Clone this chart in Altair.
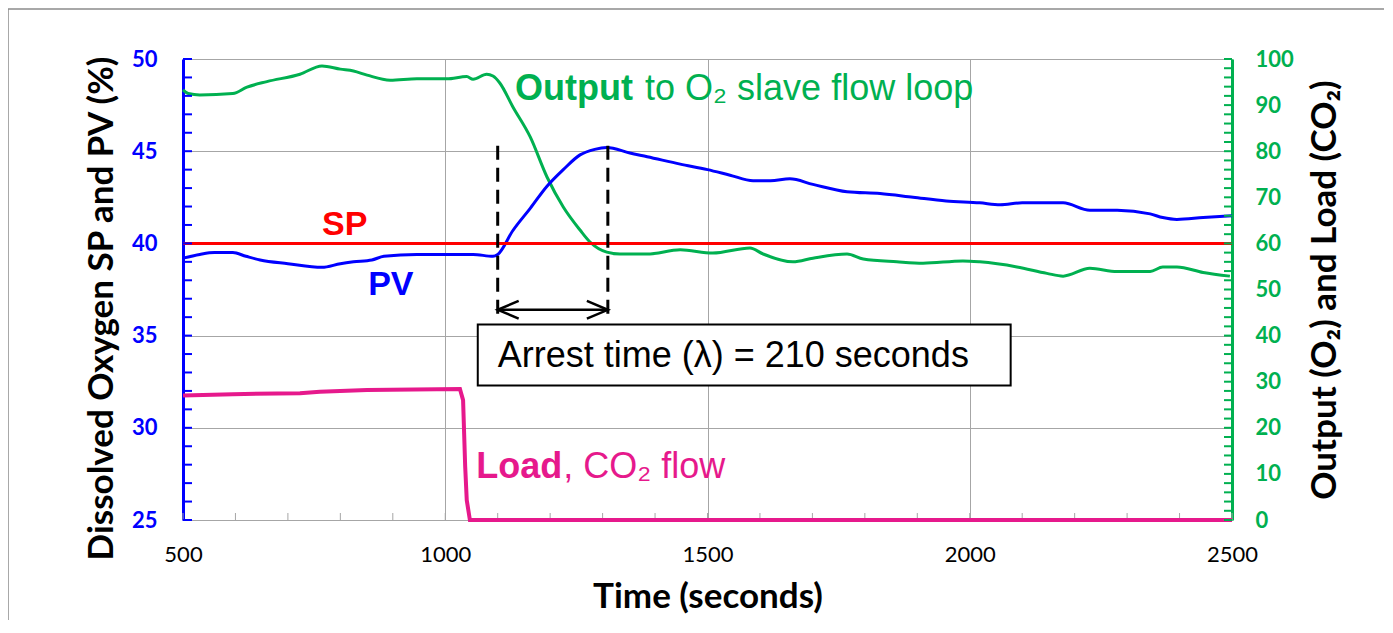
import altair as alt
import pandas as pd

# ---------------- data ----------------
pv_t = [500, 532, 560, 595, 620, 647, 700, 765, 800, 825, 860, 883, 946, 1003, 1053, 1091, 1100,
        1129, 1162, 1194, 1225, 1257, 1285, 1308, 1352, 1385, 1448, 1500, 1543, 1587, 1620, 1657,
        1701, 1766, 1829, 1892, 1955, 2019, 2058, 2100, 2153, 2178, 2229, 2281, 2344, 2368, 2395,
        2445, 2500]
pv_v = [39.2, 39.4, 39.5, 39.5, 39.3, 39.1, 38.9, 38.7, 38.9, 39.0, 39.1, 39.3, 39.4, 39.4, 39.4, 39.3, 39.4,
        40.7, 41.9, 43.1, 44.0, 44.8, 45.1, 45.2, 44.9, 44.7, 44.3, 44.0, 43.7, 43.4, 43.4, 43.5,
        43.2, 42.8, 42.7, 42.5, 42.3, 42.2, 42.1, 42.2, 42.2, 42.2, 41.8, 41.8, 41.6, 41.4, 41.3,
        41.4, 41.5]

out_t = [500, 510, 532, 595, 622, 660, 723, 765, 800, 825, 851, 895, 946, 1003, 1041, 1053, 1079,
         1091, 1104, 1129, 1162, 1194, 1225, 1257, 1276, 1308, 1333, 1385, 1448, 1510, 1581, 1606,
         1663, 1701, 1766, 1797, 1861, 1911, 1987, 2019, 2090, 2147, 2178, 2229, 2281, 2344, 2368,
         2395, 2445, 2496]
out_v = [93.3, 92.5, 92.2, 92.5, 93.9, 95.1, 96.7, 98.5, 97.8, 97.4, 96.5, 95.4, 95.7, 95.7, 96.2, 95.6, 96.7,
         96.3, 94.8, 89.6, 83.1, 74.4, 67.9, 62.9, 60.3, 58.1, 57.7, 57.7, 58.6, 57.9, 59.0, 57.7,
         56.0, 56.8, 57.7, 56.6, 56.0, 55.7, 56.2, 56.0, 54.9, 53.5, 52.9, 54.6, 53.9, 53.9, 54.9,
         54.9, 53.7, 52.9]

load_t = [500, 595, 723, 761, 851, 1028, 1034, 1038, 1041, 1047, 2500]
load_v = [27.0, 27.3, 27.5, 27.8, 28.2, 28.4, 26.0, 11.6, 4.3, 0.0, 0.0]

sp_t = [500, 2500]
sp_v = [40, 40]

# arrest-time markers
dash_t = [1100, 1310]
dash_top = 45.3
dash_bottom = 35.8
arrow_v = 36.4
box_t = [1062, 2078]
box_v = [32.3, 35.6]

# tick values
x_labels = [500, 1000, 1500, 2000, 2500]
x_minor = list(range(500, 2501, 100))
yl_labels = [25, 30, 35, 40, 45, 50]
yl_minor = list(range(25, 51, 1))
yr_labels = list(range(0, 101, 10))
yr_minor = list(range(0, 101, 2))

# annotation texts (left x in seconds, baseline on left axis)
ann = [
    ("SP", 765, 40.46),
    ("PV", 853, 37.2),
    ("Output", 1133, 47.78),
    ("to O\u2082 slave flow loop", 1381, 47.78),
    ("Load", 1059, 27.28),
    (", CO\u2082 flow", 1225, 27.28),
    ("Arrest time (\u03bb) = 210 seconds", 1100, 33.31),
]

# ---------------- style ----------------
W, H = 1049, 461
BLUE = "#0000FF"
GREEN = "#00B050"
RED = "#FF0000"
MAG = "#E6198C"
GRID = "#A6A6A6"
TICKFONT = "Lato"
TXTFONT = "Liberation Sans"

x_scale = alt.Scale(domain=[500, 2500], nice=False, zero=False)
yl_scale = alt.Scale(domain=[25, 50], nice=False, zero=False)
yr_scale = alt.Scale(domain=[0, 100], nice=False, zero=False)

x_axis = alt.Axis(values=x_labels, format="d", title="Time (seconds)", grid=True, gridColor=GRID, gridWidth=1,
                  domainColor=GRID, domainWidth=1, ticks=False, tickSize=0,
                  labelFont=TICKFONT, labelFontSize=22, labelColor="black", labelPadding=24,
                  labelFlush=False, labelOverlap=False,
                  titleFont=TICKFONT, titleFontSize=35, titleFontWeight="bold", titleColor="black",
                  titlePadding=14)
yl_axis = alt.Axis(orient="left", values=yl_labels, format="d", title="Dissolved Oxygen SP and PV (%)",
                   grid=True, gridColor=GRID, gridWidth=1,
                   domainColor=BLUE, domainWidth=3, ticks=False, tickSize=0,
                   labelFont=TICKFONT, labelFontSize=22, labelFontWeight="bold", labelColor=BLUE,
                   labelPadding=26, labelFlush=False, labelOverlap=False,
                   titleFont=TICKFONT, titleFontSize=35, titleFontWeight="bold", titleColor="black",
                   titlePadding=12, titleY=249)
yr_axis = alt.Axis(orient="right", values=yr_labels, format="d", title="Output (O\u2082) and Load (CO\u2082)",
                   grid=False, domainColor=GREEN, domainWidth=3, ticks=False, tickSize=0,
                   labelFont=TICKFONT, labelFontSize=22, labelFontWeight="bold", labelColor=GREEN,
                   labelPadding=23, labelFlush=False, labelOverlap=False,
                   titleFont=TICKFONT, titleFontSize=35, titleFontWeight="bold", titleColor="black",
                   titlePadding=14, titleAngle=270, titleBaseline="top")


def X(f="t"):
    return alt.X(f"{f}:Q", scale=x_scale, axis=x_axis)


def YL(f="v", axis=None):
    return alt.Y(f"{f}:Q", scale=yl_scale, axis=axis)


def YR(f="v", axis=None):
    return alt.Y(f"{f}:Q", scale=yr_scale, axis=axis)


one = pd.DataFrame({"k": [0]})

frame = alt.Chart(one).mark_rect(fill=None, stroke="#8C8C8C", strokeWidth=1.5).encode(
    x=alt.value(-175), x2=alt.value(1202), y=alt.value(-50), y2=alt.value(700))

xticks = alt.Chart(pd.DataFrame({"t": x_minor})).mark_rule(color=GRID, strokeWidth=1).encode(
    x=X(), y=alt.value(H - 7), y2=alt.value(H))

out_line = alt.Chart(pd.DataFrame({"t": out_t, "v": out_v})).mark_line(
    color=GREEN, strokeWidth=3, interpolate="monotone").encode(x=X(), y=YR(axis=yr_axis))

pv_line = alt.Chart(pd.DataFrame({"t": pv_t, "v": pv_v})).mark_line(
    color=BLUE, strokeWidth=3, interpolate="monotone").encode(x=X(), y=YL(axis=yl_axis))

load_line = alt.Chart(pd.DataFrame({"t": load_t, "v": load_v})).mark_line(
    color=MAG, strokeWidth=4).encode(x=X(), y=YR())

sp_line = alt.Chart(pd.DataFrame({"t": sp_t, "v": sp_v})).mark_line(
    color=RED, strokeWidth=3).encode(x=X(), y=YL())

dashes = alt.Chart(pd.DataFrame({"t": dash_t, "v": [dash_top] * 2, "v2": [dash_bottom] * 2})).mark_rule(
    color="black", strokeWidth=3, strokeDash=[14, 8]).encode(x=X(), y=YL(), y2="v2:Q")

# double-headed arrow between the two dashed lines
head_dt, head_dv = 40, 0.48
a0, a1 = dash_t
arrow_rows = [
    (0, a0, arrow_v), (0, a1, arrow_v),
    (1, a0 + head_dt, arrow_v + head_dv), (1, a0, arrow_v), (1, a0 + head_dt, arrow_v - head_dv),
    (2, a1 - head_dt, arrow_v + head_dv), (2, a1, arrow_v), (2, a1 - head_dt, arrow_v - head_dv),
]
arrow_df = pd.DataFrame(arrow_rows, columns=["seg", "t", "v"])
arrow_df["o"] = range(len(arrow_df))
arrow = alt.Chart(arrow_df).mark_line(color="black", strokeWidth=2.5).encode(
    x=X(), y=YL(), detail="seg:N", order="o:Q")

box = alt.Chart(pd.DataFrame({"t": [box_t[0]], "t2": [box_t[1]], "v": [box_v[0]], "v2": [box_v[1]]})).mark_rect(
    fill="white", stroke="black", strokeWidth=2).encode(x=X(), x2="t2:Q", y=YL(), y2="v2:Q")


def text_layer(i, color, size, bold):
    label, t, v = ann[i]
    return alt.Chart(pd.DataFrame({"t": [t], "v": [v], "label": [label]})).mark_text(
        align="left", baseline="alphabetic", font=TXTFONT, fontSize=size,
        fontWeight="bold" if bold else "normal", color=color).encode(x=X(), y=YL(), text="label:N")


texts = [
    text_layer(0, RED, 34, True),
    text_layer(1, BLUE, 34, True),
    text_layer(2, GREEN, 36, True),
    text_layer(3, GREEN, 36, False),
    text_layer(4, MAG, 36, True),
    text_layer(5, MAG, 36, False),
    text_layer(6, "black", 36, False),
]

lticks = alt.Chart(pd.DataFrame({"v": yl_minor})).mark_rule(color=BLUE, strokeWidth=2).encode(
    y=YL(), x=alt.value(0), x2=alt.value(9))
rticks = alt.Chart(pd.DataFrame({"v": yr_minor})).mark_rule(color=GREEN, strokeWidth=2).encode(
    y=YR(), x=alt.value(W - 8), x2=alt.value(W))

chart = alt.layer(
    frame, xticks, out_line, pv_line, load_line, sp_line, dashes, arrow, box, *texts, lticks, rticks
).resolve_scale(y="independent").properties(
    width=W, height=H,
    autosize=alt.AutoSizeParams(type="none"),
    padding={"left": 175, "top": 51, "right": 152, "bottom": 100},
).configure_view(stroke=GRID, strokeWidth=1)

chart.save("out.html", embed_options={"renderer": "svg", "actions": False})
